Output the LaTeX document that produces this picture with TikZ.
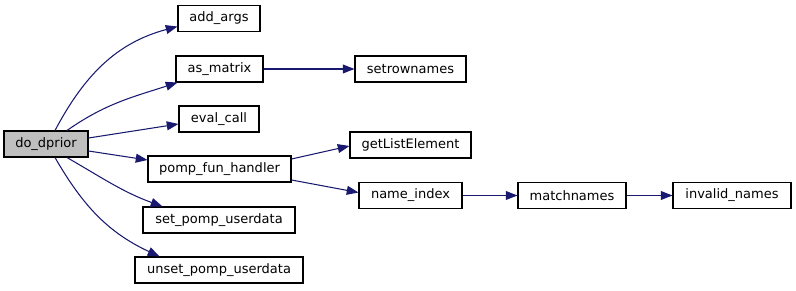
\documentclass[tikz,border=0pt]{standalone}
\usepackage{fontspec}
\setmainfont{DejaVu Sans}
\usetikzlibrary{arrows.meta}
\definecolor{callblue}{HTML}{191970}
\newlength\pxu
\setlength\pxu{0.03cm}
\tikzset{
  fn/.style={draw=black, fill=white, line width=0.9pt, inner sep=0pt,
    minimum height={26*\pxu}, font=\fontsize{11.1}{13}\selectfont},
  root/.style={fn, fill=black!25},
  call/.style={draw=callblue, line width=0.9pt,
    -{Triangle[length=10pt, width=7.6pt, fill=callblue]}}
}

\begin{document}
\begin{tikzpicture}[x=0.03cm, y=-0.03cm]
\useasboundingbox (0,0) rectangle (796,291);
% caller
\node[root, minimum width={84*\pxu}] (dprior) at (46,144) {do\_dprior};
% first level
\node[fn, minimum width={82*\pxu}] (addargs) at (219,18.5) {add\_args};
\node[fn, minimum width={87*\pxu}] (asmatrix) at (219.5,69) {as\_matrix};
\node[fn, minimum width={80*\pxu}] (evalcall) at (219,119) {eval\_call};
\node[fn, minimum width={143*\pxu}] (funhandler) at (219.5,169) {pomp\_fun\_handler};
\node[fn, minimum width={152*\pxu}] (setud) at (219,220) {set\_pomp\_userdata};
\node[fn, minimum width={168*\pxu}] (unsetud) at (219,270) {unset\_pomp\_userdata};
% second level and beyond
\node[fn, minimum width={111*\pxu}] (rownames) at (410.5,69) {setrownames};
\node[fn, minimum width={121*\pxu}] (listelem) at (410.5,145) {getListElement};
\node[fn, minimum width={103*\pxu}] (nameidx) at (410.5,195.5) {name\_index};
\node[fn, minimum width={108*\pxu}] (matchn) at (572,195.5) {matchnames};
\node[fn, minimum width={118*\pxu}] (invalidn) at (732,195.5) {invalid\_names};

\draw[call] ([xshift=9*\pxu]dprior.north) to[out=62, in=195] ([yshift=-8*\pxu]addargs.west);
\draw[call] ([xshift=21*\pxu]dprior.north) to[out=35, in=198] ([xshift=2*\pxu]asmatrix.south west);
\draw[call] ([yshift=6*\pxu]dprior.east) -- ([yshift=-5*\pxu]evalcall.west);
\draw[call] ([yshift=-7*\pxu]dprior.east) -- ([yshift=9*\pxu]funhandler.west);
\draw[call] ([xshift=21*\pxu]dprior.south) to[out=-30, in=160] ([xshift=20*\pxu]setud.north west);
\draw[call] ([xshift=9*\pxu]dprior.south) to[out=-60, in=155] ([xshift=25*\pxu]unsetud.north west);
\draw[call] (asmatrix) -- (rownames);
\draw[call] ([yshift=10*\pxu]funhandler.east) -- ([yshift=-1*\pxu]listelem.west);
\draw[call] ([yshift=-11*\pxu]funhandler.east) -- ([yshift=3*\pxu]nameidx.west);
\draw[call] (nameidx) -- (matchn);
\draw[call] (matchn) -- (invalidn);
\end{tikzpicture}
\end{document}
